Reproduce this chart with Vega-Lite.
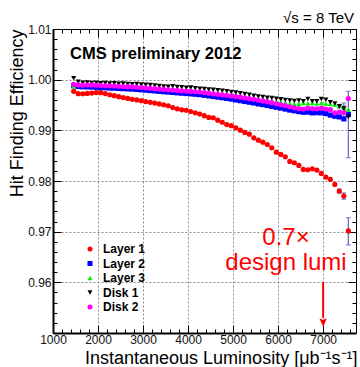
{
"$schema": "https://vega.github.io/schema/vega-lite/v6.json",
"width": 303, "height": 304,
"autosize": "none",
"padding": {"left": 53, "top": 29, "right": 4, "bottom": 34},
"background": "white",
"config": {"view": {"stroke": null}, "font": "Liberation Sans",
  "axis": {"labelFont": "Liberation Sans", "titleFont": "Liberation Sans"}},
"datasets": {
"pts": [
{"L":1460,"s":"Layer 1","E":0.99770},{"L":1560,"s":"Layer 1","E":0.99724},{"L":1660,"s":"Layer 1","E":0.99722},{"L":1760,"s":"Layer 1","E":0.99728},{"L":1860,"s":"Layer 1","E":0.99736},{"L":1960,"s":"Layer 1","E":0.99745},{"L":2060,"s":"Layer 1","E":0.99744},{"L":2160,"s":"Layer 1","E":0.99725},{"L":2260,"s":"Layer 1","E":0.99702},{"L":2360,"s":"Layer 1","E":0.99685},
{"L":2460,"s":"Layer 1","E":0.99665},{"L":2560,"s":"Layer 1","E":0.99648},{"L":2660,"s":"Layer 1","E":0.99630},{"L":2760,"s":"Layer 1","E":0.99612},{"L":2860,"s":"Layer 1","E":0.99600},{"L":2960,"s":"Layer 1","E":0.99585},{"L":3060,"s":"Layer 1","E":0.99568},{"L":3160,"s":"Layer 1","E":0.99552},{"L":3260,"s":"Layer 1","E":0.99538},{"L":3360,"s":"Layer 1","E":0.99522},
{"L":3460,"s":"Layer 1","E":0.99505},{"L":3560,"s":"Layer 1","E":0.99485},{"L":3660,"s":"Layer 1","E":0.99450},{"L":3760,"s":"Layer 1","E":0.99425},{"L":3860,"s":"Layer 1","E":0.99405},{"L":3960,"s":"Layer 1","E":0.99396},{"L":4060,"s":"Layer 1","E":0.99372},{"L":4160,"s":"Layer 1","E":0.99345},{"L":4260,"s":"Layer 1","E":0.99322},{"L":4360,"s":"Layer 1","E":0.99290},
{"L":4460,"s":"Layer 1","E":0.99255},{"L":4560,"s":"Layer 1","E":0.99248},{"L":4660,"s":"Layer 1","E":0.99200},{"L":4760,"s":"Layer 1","E":0.99160},{"L":4860,"s":"Layer 1","E":0.99114},{"L":4960,"s":"Layer 1","E":0.99092},{"L":5060,"s":"Layer 1","E":0.99050},{"L":5160,"s":"Layer 1","E":0.99003},{"L":5260,"s":"Layer 1","E":0.98958},{"L":5360,"s":"Layer 1","E":0.98924},
{"L":5460,"s":"Layer 1","E":0.98852},{"L":5560,"s":"Layer 1","E":0.98805},{"L":5660,"s":"Layer 1","E":0.98766},{"L":5760,"s":"Layer 1","E":0.98720},{"L":5860,"s":"Layer 1","E":0.98655},{"L":5960,"s":"Layer 1","E":0.98569},{"L":6060,"s":"Layer 1","E":0.98524},{"L":6160,"s":"Layer 1","E":0.98478},{"L":6260,"s":"Layer 1","E":0.98386},{"L":6360,"s":"Layer 1","E":0.98360},
{"L":6460,"s":"Layer 1","E":0.98307},{"L":6560,"s":"Layer 1","E":0.98228},{"L":6660,"s":"Layer 1","E":0.98222},{"L":6760,"s":"Layer 1","E":0.98242},{"L":6860,"s":"Layer 1","E":0.98215},{"L":6960,"s":"Layer 1","E":0.98150},{"L":7060,"s":"Layer 1","E":0.98077},{"L":7160,"s":"Layer 1","E":0.98031},{"L":7260,"s":"Layer 1","E":0.97933},{"L":7360,"s":"Layer 1","E":0.97801},
{"L":7460,"s":"Layer 1","E":0.97703},{"L":7560,"s":"Layer 1","E":0.97014},

{"L":1460,"s":"Layer 2","E":0.99880},{"L":1560,"s":"Layer 2","E":0.99865},{"L":1660,"s":"Layer 2","E":0.99860},{"L":1760,"s":"Layer 2","E":0.99858},{"L":1860,"s":"Layer 2","E":0.99855},{"L":1960,"s":"Layer 2","E":0.99850},{"L":2060,"s":"Layer 2","E":0.99845},{"L":2160,"s":"Layer 2","E":0.99840},{"L":2260,"s":"Layer 2","E":0.99835},{"L":2360,"s":"Layer 2","E":0.99832},
{"L":2460,"s":"Layer 2","E":0.99828},{"L":2560,"s":"Layer 2","E":0.99822},{"L":2660,"s":"Layer 2","E":0.99818},{"L":2760,"s":"Layer 2","E":0.99815},{"L":2860,"s":"Layer 2","E":0.99808},{"L":2960,"s":"Layer 2","E":0.99800},{"L":3060,"s":"Layer 2","E":0.99793},{"L":3160,"s":"Layer 2","E":0.99785},{"L":3260,"s":"Layer 2","E":0.99778},{"L":3360,"s":"Layer 2","E":0.99770},
{"L":3460,"s":"Layer 2","E":0.99762},{"L":3560,"s":"Layer 2","E":0.99755},{"L":3660,"s":"Layer 2","E":0.99748},{"L":3760,"s":"Layer 2","E":0.99740},{"L":3860,"s":"Layer 2","E":0.99733},{"L":3960,"s":"Layer 2","E":0.99727},{"L":4060,"s":"Layer 2","E":0.99720},{"L":4160,"s":"Layer 2","E":0.99712},{"L":4260,"s":"Layer 2","E":0.99705},{"L":4360,"s":"Layer 2","E":0.99692},
{"L":4460,"s":"Layer 2","E":0.99680},{"L":4560,"s":"Layer 2","E":0.99668},{"L":4660,"s":"Layer 2","E":0.99655},{"L":4760,"s":"Layer 2","E":0.99643},{"L":4860,"s":"Layer 2","E":0.99630},{"L":4960,"s":"Layer 2","E":0.99617},{"L":5060,"s":"Layer 2","E":0.99600},{"L":5160,"s":"Layer 2","E":0.99585},{"L":5260,"s":"Layer 2","E":0.99570},{"L":5360,"s":"Layer 2","E":0.99555},
{"L":5460,"s":"Layer 2","E":0.99540},{"L":5560,"s":"Layer 2","E":0.99522},{"L":5660,"s":"Layer 2","E":0.99508},{"L":5760,"s":"Layer 2","E":0.99490},{"L":5860,"s":"Layer 2","E":0.99472},{"L":5960,"s":"Layer 2","E":0.99455},{"L":6060,"s":"Layer 2","E":0.99440},{"L":6160,"s":"Layer 2","E":0.99420},{"L":6260,"s":"Layer 2","E":0.99400},{"L":6360,"s":"Layer 2","E":0.99385},
{"L":6460,"s":"Layer 2","E":0.99370},{"L":6560,"s":"Layer 2","E":0.99357},{"L":6660,"s":"Layer 2","E":0.99360},{"L":6760,"s":"Layer 2","E":0.99345},{"L":6860,"s":"Layer 2","E":0.99350},{"L":6960,"s":"Layer 2","E":0.99345},{"L":7060,"s":"Layer 2","E":0.99330},{"L":7160,"s":"Layer 2","E":0.99300},{"L":7260,"s":"Layer 2","E":0.99278},{"L":7360,"s":"Layer 2","E":0.99265},
{"L":7460,"s":"Layer 2","E":0.99226},{"L":7560,"s":"Layer 2","E":0.99311},

{"L":1460,"s":"Layer 3","E":0.99868},{"L":1560,"s":"Layer 3","E":0.99900},{"L":1660,"s":"Layer 3","E":0.99905},{"L":1760,"s":"Layer 3","E":0.99900},{"L":1860,"s":"Layer 3","E":0.99905},{"L":1960,"s":"Layer 3","E":0.99900},{"L":2060,"s":"Layer 3","E":0.99898},{"L":2160,"s":"Layer 3","E":0.99895},{"L":2260,"s":"Layer 3","E":0.99892},{"L":2360,"s":"Layer 3","E":0.99888},
{"L":2460,"s":"Layer 3","E":0.99885},{"L":2560,"s":"Layer 3","E":0.99880},{"L":2660,"s":"Layer 3","E":0.99878},{"L":2760,"s":"Layer 3","E":0.99872},{"L":2860,"s":"Layer 3","E":0.99868},{"L":2960,"s":"Layer 3","E":0.99862},{"L":3060,"s":"Layer 3","E":0.99855},{"L":3160,"s":"Layer 3","E":0.99848},{"L":3260,"s":"Layer 3","E":0.99840},{"L":3360,"s":"Layer 3","E":0.99833},
{"L":3460,"s":"Layer 3","E":0.99826},{"L":3560,"s":"Layer 3","E":0.99820},{"L":3660,"s":"Layer 3","E":0.99815},{"L":3760,"s":"Layer 3","E":0.99808},{"L":3860,"s":"Layer 3","E":0.99800},{"L":3960,"s":"Layer 3","E":0.99795},{"L":4060,"s":"Layer 3","E":0.99790},{"L":4160,"s":"Layer 3","E":0.99782},{"L":4260,"s":"Layer 3","E":0.99775},{"L":4360,"s":"Layer 3","E":0.99765},
{"L":4460,"s":"Layer 3","E":0.99755},{"L":4560,"s":"Layer 3","E":0.99745},{"L":4660,"s":"Layer 3","E":0.99735},{"L":4760,"s":"Layer 3","E":0.99725},{"L":4860,"s":"Layer 3","E":0.99715},{"L":4960,"s":"Layer 3","E":0.99705},{"L":5060,"s":"Layer 3","E":0.99695},{"L":5160,"s":"Layer 3","E":0.99682},{"L":5260,"s":"Layer 3","E":0.99670},{"L":5360,"s":"Layer 3","E":0.99655},
{"L":5460,"s":"Layer 3","E":0.99640},{"L":5560,"s":"Layer 3","E":0.99628},{"L":5660,"s":"Layer 3","E":0.99612},{"L":5760,"s":"Layer 3","E":0.99600},{"L":5860,"s":"Layer 3","E":0.99585},{"L":5960,"s":"Layer 3","E":0.99570},{"L":6060,"s":"Layer 3","E":0.99558},{"L":6160,"s":"Layer 3","E":0.99545},{"L":6260,"s":"Layer 3","E":0.99530},{"L":6360,"s":"Layer 3","E":0.99520},
{"L":6460,"s":"Layer 3","E":0.99525},{"L":6560,"s":"Layer 3","E":0.99541},{"L":6660,"s":"Layer 3","E":0.99535},{"L":6760,"s":"Layer 3","E":0.99540},{"L":6860,"s":"Layer 3","E":0.99530},{"L":6960,"s":"Layer 3","E":0.99541},{"L":7060,"s":"Layer 3","E":0.99530},{"L":7160,"s":"Layer 3","E":0.99520},{"L":7260,"s":"Layer 3","E":0.99508},{"L":7360,"s":"Layer 3","E":0.99480},
{"L":7460,"s":"Layer 3","E":0.99443},{"L":7560,"s":"Layer 3","E":0.99410},

{"L":1460,"s":"Disk 1","E":1.00026},{"L":1560,"s":"Disk 1","E":0.99960},{"L":1660,"s":"Disk 1","E":0.99940},{"L":1760,"s":"Disk 1","E":0.99945},{"L":1860,"s":"Disk 1","E":0.99935},{"L":1960,"s":"Disk 1","E":0.99940},{"L":2060,"s":"Disk 1","E":0.99930},{"L":2160,"s":"Disk 1","E":0.99935},{"L":2260,"s":"Disk 1","E":0.99925},{"L":2360,"s":"Disk 1","E":0.99930},
{"L":2460,"s":"Disk 1","E":0.99920},{"L":2560,"s":"Disk 1","E":0.99925},{"L":2660,"s":"Disk 1","E":0.99915},{"L":2760,"s":"Disk 1","E":0.99910},{"L":2860,"s":"Disk 1","E":0.99915},{"L":2960,"s":"Disk 1","E":0.99905},{"L":3060,"s":"Disk 1","E":0.99900},{"L":3160,"s":"Disk 1","E":0.99895},{"L":3260,"s":"Disk 1","E":0.99885},{"L":3360,"s":"Disk 1","E":0.99875},
{"L":3460,"s":"Disk 1","E":0.99865},{"L":3560,"s":"Disk 1","E":0.99860},{"L":3660,"s":"Disk 1","E":0.99870},{"L":3760,"s":"Disk 1","E":0.99855},{"L":3860,"s":"Disk 1","E":0.99850},{"L":3960,"s":"Disk 1","E":0.99840},{"L":4060,"s":"Disk 1","E":0.99845},{"L":4160,"s":"Disk 1","E":0.99830},{"L":4260,"s":"Disk 1","E":0.99823},{"L":4360,"s":"Disk 1","E":0.99815},
{"L":4460,"s":"Disk 1","E":0.99805},{"L":4560,"s":"Disk 1","E":0.99800},{"L":4660,"s":"Disk 1","E":0.99790},{"L":4760,"s":"Disk 1","E":0.99780},{"L":4860,"s":"Disk 1","E":0.99770},{"L":4960,"s":"Disk 1","E":0.99757},{"L":5060,"s":"Disk 1","E":0.99745},{"L":5160,"s":"Disk 1","E":0.99730},{"L":5260,"s":"Disk 1","E":0.99715},{"L":5360,"s":"Disk 1","E":0.99700},
{"L":5460,"s":"Disk 1","E":0.99685},{"L":5560,"s":"Disk 1","E":0.99670},{"L":5660,"s":"Disk 1","E":0.99660},{"L":5760,"s":"Disk 1","E":0.99645},{"L":5860,"s":"Disk 1","E":0.99640},{"L":5960,"s":"Disk 1","E":0.99625},{"L":6060,"s":"Disk 1","E":0.99612},{"L":6160,"s":"Disk 1","E":0.99600},{"L":6260,"s":"Disk 1","E":0.99587},{"L":6360,"s":"Disk 1","E":0.99580},
{"L":6460,"s":"Disk 1","E":0.99590},{"L":6560,"s":"Disk 1","E":0.99573},{"L":6660,"s":"Disk 1","E":0.99620},{"L":6760,"s":"Disk 1","E":0.99573},{"L":6860,"s":"Disk 1","E":0.99575},{"L":6960,"s":"Disk 1","E":0.99620},{"L":7060,"s":"Disk 1","E":0.99606},{"L":7160,"s":"Disk 1","E":0.99553},{"L":7260,"s":"Disk 1","E":0.99528},{"L":7360,"s":"Disk 1","E":0.99475},
{"L":7460,"s":"Disk 1","E":0.99430},{"L":7560,"s":"Disk 1","E":0.99266},

{"L":1460,"s":"Disk 2","E":0.99907},{"L":1560,"s":"Disk 2","E":0.99896},{"L":1660,"s":"Disk 2","E":0.99890},{"L":1760,"s":"Disk 2","E":0.99895},{"L":1860,"s":"Disk 2","E":0.99896},{"L":1960,"s":"Disk 2","E":0.99890},{"L":2060,"s":"Disk 2","E":0.99885},{"L":2160,"s":"Disk 2","E":0.99880},{"L":2260,"s":"Disk 2","E":0.99878},{"L":2360,"s":"Disk 2","E":0.99875},
{"L":2460,"s":"Disk 2","E":0.99870},{"L":2560,"s":"Disk 2","E":0.99865},{"L":2660,"s":"Disk 2","E":0.99862},{"L":2760,"s":"Disk 2","E":0.99858},{"L":2860,"s":"Disk 2","E":0.99850},{"L":2960,"s":"Disk 2","E":0.99845},{"L":3060,"s":"Disk 2","E":0.99838},{"L":3160,"s":"Disk 2","E":0.99830},{"L":3260,"s":"Disk 2","E":0.99822},{"L":3360,"s":"Disk 2","E":0.99815},
{"L":3460,"s":"Disk 2","E":0.99808},{"L":3560,"s":"Disk 2","E":0.99800},{"L":3660,"s":"Disk 2","E":0.99795},{"L":3760,"s":"Disk 2","E":0.99788},{"L":3860,"s":"Disk 2","E":0.99780},{"L":3960,"s":"Disk 2","E":0.99775},{"L":4060,"s":"Disk 2","E":0.99768},{"L":4160,"s":"Disk 2","E":0.99762},{"L":4260,"s":"Disk 2","E":0.99757},{"L":4360,"s":"Disk 2","E":0.99745},
{"L":4460,"s":"Disk 2","E":0.99733},{"L":4560,"s":"Disk 2","E":0.99720},{"L":4660,"s":"Disk 2","E":0.99710},{"L":4760,"s":"Disk 2","E":0.99700},{"L":4860,"s":"Disk 2","E":0.99690},{"L":4960,"s":"Disk 2","E":0.99680},{"L":5060,"s":"Disk 2","E":0.99668},{"L":5160,"s":"Disk 2","E":0.99655},{"L":5260,"s":"Disk 2","E":0.99640},{"L":5360,"s":"Disk 2","E":0.99625},
{"L":5460,"s":"Disk 2","E":0.99612},{"L":5560,"s":"Disk 2","E":0.99595},{"L":5660,"s":"Disk 2","E":0.99580},{"L":5760,"s":"Disk 2","E":0.99565},{"L":5860,"s":"Disk 2","E":0.99545},{"L":5960,"s":"Disk 2","E":0.99525},{"L":6060,"s":"Disk 2","E":0.99505},{"L":6160,"s":"Disk 2","E":0.99488},{"L":6260,"s":"Disk 2","E":0.99465},{"L":6360,"s":"Disk 2","E":0.99445},
{"L":6460,"s":"Disk 2","E":0.99430},{"L":6560,"s":"Disk 2","E":0.99420},{"L":6660,"s":"Disk 2","E":0.99440},{"L":6760,"s":"Disk 2","E":0.99430},{"L":6860,"s":"Disk 2","E":0.99425},{"L":6960,"s":"Disk 2","E":0.99440},{"L":7060,"s":"Disk 2","E":0.99420},{"L":7160,"s":"Disk 2","E":0.99410},{"L":7260,"s":"Disk 2","E":0.99345},{"L":7360,"s":"Disk 2","E":0.99360},
{"L":7460,"s":"Disk 2","E":0.99350},{"L":7560,"s":"Disk 2","E":0.99626}
],
"err": [
{"L":7560,"lo":0.9846,"hi":0.9977},
{"L":7560,"lo":0.96738,"hi":0.97277},
{"L":7460,"lo":0.9764,"hi":0.97766},
{"L":7360,"lo":0.9776,"hi":0.9784},
{"L":7460,"lo":0.9925,"hi":0.9954},
{"L":7460,"lo":0.9938,"hi":0.9948},
{"L":7360,"lo":0.9944,"hi":0.9951}
]
},
"layer": [
{
 "data": {"name": "err"},
 "mark": {"type": "rule", "color": "#6464c8", "strokeWidth": 1.2},
 "encoding": {
  "x": {"field": "L", "type": "quantitative", "scale": {"domain": [1000, 7730], "nice": false, "zero": false},
   "axis": {"orient": "bottom", "values": [1000,2000,3000,4000,5000,6000,7000], "grid": true, "gridColor": "#8a8a8a", "gridDash": [2,2], "gridWidth": 1, "ticks": false, "labels": true, "labelFontSize": 12, "labelColor": "#111", "labelPadding": 1, "labelFlush": false, "format": "d", "domain": true, "domainColor": "black", "domainWidth": 2, "title": "Instantaneous Luminosity [μb⁻¹s⁻¹]", "titleFontSize": 18, "titleFontWeight": "normal", "titleColor": "black", "titleAnchor": "end", "titleAlign": "right", "titleX": 304, "titleY": 30, "titleBaseline": "alphabetic"}},
  "y": {"field": "lo", "type": "quantitative", "scale": {"domain": [0.95, 1.01], "nice": false, "zero": false},
   "axis": {"orient": "left", "values": [0.96,0.97,0.98,0.99,1.0,1.01], "format": ".2f", "grid": true, "gridColor": "#8a8a8a", "gridDash": [2,2], "gridWidth": 1, "ticks": false, "labels": true, "labelFontSize": 12, "labelColor": "#111", "labelPadding": 2, "labelFlush": false, "domain": true, "domainColor": "black", "domainWidth": 2, "title": "Hit Finding Efficiency", "titleFontSize": 18, "titleFontWeight": "normal", "titleColor": "black", "titleAngle": 270, "titleAlign": "right", "titleAnchor": "end", "titleX": -31, "titleY": 0, "titleBaseline": "alphabetic"}},
  "y2": {"field": "hi"}
 }
},
{
 "data": {"name": "err"},
 "mark": {"type": "tick", "orient": "horizontal", "color": "#6464c8", "size": 5, "thickness": 1.2},
 "encoding": {
  "x": {"field": "L", "type": "quantitative", "scale": {"domain": [1000, 7730], "nice": false, "zero": false},
   "axis": {"orient": "bottom", "values": [1000,2000,3000,4000,5000,6000,7000], "grid": false, "ticks": true, "tickSize": -8, "tickColor": "black", "tickWidth": 1, "labels": false, "domain": false, "title": null}},
  "y": {"field": "lo", "type": "quantitative", "scale": {"domain": [0.95, 1.01], "nice": false, "zero": false},
   "axis": {"orient": "left", "values": [0.96,0.97,0.98,0.99,1.0,1.01], "grid": false, "ticks": true, "tickSize": -8, "tickColor": "black", "tickWidth": 1, "labels": false, "domain": false, "title": null}}
 }
},
{
 "data": {"name": "err"},
 "mark": {"type": "tick", "orient": "horizontal", "color": "#6464c8", "size": 5, "thickness": 1.2},
 "encoding": {
  "x": {"field": "L", "type": "quantitative", "scale": {"domain": [1000, 7730], "nice": false, "zero": false},
   "axis": {"orient": "bottom", "values": [1200,1400,1600,1800,2200,2400,2600,2800,3200,3400,3600,3800,4200,4400,4600,4800,5200,5400,5600,5800,6200,6400,6600,6800,7200,7400,7600], "grid": false, "ticks": true, "tickSize": -4, "tickColor": "black", "tickWidth": 1, "labels": false, "domain": false, "title": null}},
  "y": {"field": "hi", "type": "quantitative", "scale": {"domain": [0.95, 1.01], "nice": false, "zero": false},
   "axis": {"orient": "left", "values": [0.952,0.954,0.956,0.958,0.962,0.964,0.966,0.968,0.972,0.974,0.976,0.978,0.982,0.984,0.986,0.988,0.992,0.994,0.996,0.998,1.002,1.004,1.006,1.008], "grid": false, "ticks": true, "tickSize": -4, "tickColor": "black", "tickWidth": 1, "labels": false, "domain": false, "title": null}}
 }
},
{
 "data": {"name": "pts"},
 "mark": {"type": "point", "filled": true, "size": 27, "opacity": 1},
 "encoding": {
  "x": {"field": "L", "type": "quantitative", "scale": {"domain": [1000, 7730], "nice": false, "zero": false},
   "axis": {"orient": "top", "values": [1000,2000,3000,4000,5000,6000,7000], "grid": false, "ticks": true, "tickSize": -8, "tickColor": "black", "tickWidth": 1, "labels": false, "domain": true, "domainColor": "black", "domainWidth": 1, "title": null}},
  "y": {"field": "E", "type": "quantitative", "scale": {"domain": [0.95, 1.01], "nice": false, "zero": false},
   "axis": {"orient": "right", "values": [0.96,0.97,0.98,0.99,1.0,1.01], "grid": false, "ticks": true, "tickSize": -8, "tickColor": "black", "tickWidth": 1, "labels": false, "domain": true, "domainColor": "black", "domainWidth": 1, "title": null}},
  "color": {"field": "s", "type": "nominal",
   "scale": {"domain": ["Layer 1","Layer 2","Layer 3","Disk 1","Disk 2"], "range": ["#ff0000","#0000ff","#00ee00","#000000","#ff00ff"]},
   "legend": {"orient": "none", "legendX": 31, "legendY": 214, "title": null, "padding": 0, "labelFont": "Liberation Sans", "labelFontSize": 12, "labelFontWeight": "bold", "labelColor": "black", "labelOffset": 7, "symbolSize": 25, "rowPadding": 2.5, "symbolStrokeWidth": 0}},
  "shape": {"field": "s", "type": "nominal",
   "scale": {"domain": ["Layer 1","Layer 2","Layer 3","Disk 1","Disk 2"], "range": ["circle","square","triangle-up","triangle-down","circle"]}}
 }
},
{
 "data": {"values": [{"L": 1378, "E": 1.00402, "t": "CMS preliminary 2012"}]},
 "mark": {"type": "text", "align": "left", "baseline": "alphabetic", "fontSize": 16.5, "fontWeight": "bold", "font": "Liberation Sans", "color": "black"},
 "encoding": {
  "x": {"field": "L", "type": "quantitative", "scale": {"domain": [1000, 7730], "nice": false, "zero": false},
   "axis": {"orient": "top", "values": [1200,1400,1600,1800,2200,2400,2600,2800,3200,3400,3600,3800,4200,4400,4600,4800,5200,5400,5600,5800,6200,6400,6600,6800,7200,7400,7600], "grid": false, "ticks": true, "tickSize": -4, "tickColor": "black", "tickWidth": 1, "labels": false, "domain": false, "title": null}},
  "y": {"field": "E", "type": "quantitative", "scale": {"domain": [0.95, 1.01], "nice": false, "zero": false},
   "axis": {"orient": "right", "values": [0.952,0.954,0.956,0.958,0.962,0.964,0.966,0.968,0.972,0.974,0.976,0.978,0.982,0.984,0.986,0.988,0.992,0.994,0.996,0.998,1.002,1.004,1.006,1.008], "grid": false, "ticks": true, "tickSize": -4, "tickColor": "black", "tickWidth": 1, "labels": false, "domain": false, "title": null}},
  "text": {"field": "t"}
 }
},
{
 "data": {"values": [{"L": 7000, "top": 0.9601, "bot": 0.9530}]},
 "mark": {"type": "rule", "color": "#ff0000", "strokeWidth": 2},
 "encoding": {
  "x": {"field": "L", "type": "quantitative", "scale": {"domain": [1000, 7730], "nice": false, "zero": false}, "axis": null},
  "y": {"field": "top", "type": "quantitative", "scale": {"domain": [0.95, 1.01], "nice": false, "zero": false}, "axis": null},
  "y2": {"field": "bot"}
 }
},
{
 "data": {"values": [{"L": 7000, "E": 0.95207}]},
 "mark": {"type": "point", "filled": true, "color": "#ff0000", "opacity": 1, "size": 70, "shape": "M-0.9,-1L0,-0.6L0.9,-1L0,1Z"},
 "encoding": {
  "x": {"field": "L", "type": "quantitative", "scale": {"domain": [1000, 7730], "nice": false, "zero": false}, "axis": null},
  "y": {"field": "E", "type": "quantitative", "scale": {"domain": [0.95, 1.01], "nice": false, "zero": false}, "axis": null}
 }
},
{
 "data": {"values": [{"L": 6175, "E": 0.96737, "t": ["0.7×", "design lumi"]}]},
 "mark": {"type": "text", "align": "center", "baseline": "alphabetic", "fontSize": 24, "font": "Liberation Sans", "color": "#ff0000", "lineHeight": 25},
 "encoding": {
  "x": {"field": "L", "type": "quantitative", "scale": {"domain": [1000, 7730], "nice": false, "zero": false}, "axis": null},
  "y": {"field": "E", "type": "quantitative", "scale": {"domain": [0.95, 1.01], "nice": false, "zero": false}, "axis": null},
  "text": {"field": "t"}
 }
},
{
 "data": {"values": [{"L": 7730, "E": 1.01, "t": "√s = 8 TeV"}]},
 "mark": {"type": "text", "align": "right", "baseline": "alphabetic", "fontSize": 15, "font": "Liberation Sans", "color": "black", "dx": -2, "dy": -6.5},
 "encoding": {
  "x": {"field": "L", "type": "quantitative", "scale": {"domain": [1000, 7730], "nice": false, "zero": false}, "axis": null},
  "y": {"field": "E", "type": "quantitative", "scale": {"domain": [0.95, 1.01], "nice": false, "zero": false}, "axis": null},
  "text": {"field": "t"}
 }
}
],
"resolve": {"scale": {"x": "independent", "y": "independent"}, "axis": {"x": "independent", "y": "independent"}}
}
